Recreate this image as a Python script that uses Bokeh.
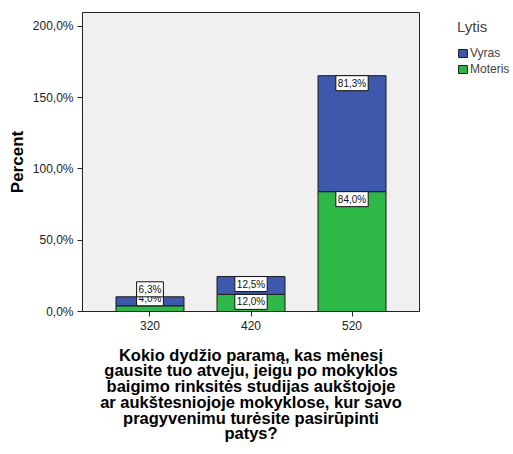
from bokeh.plotting import figure
from bokeh.models import (ColumnDataSource, FactorRange, Range1d, FixedTicker,
                          Legend, LegendItem)
from bokeh.core.properties import value
from bokeh.embed import file_html
from bokeh.resources import INLINE

# ---- data ----
categories = ["320", "420", "520"]
moteris = [4.0, 12.0, 84.0]
vyras = [6.3, 12.5, 81.3]
y_ticks = [0, 50, 100, 150, 200]
y_tick_labels = ["0,0%", "50,0%", "100,0%", "150,0%", "200,0%"]
series_names = ["Vyras", "Moteris"]
x_title = ("Kokio dydžio paramą, kas mėnesį\n"
           "gausite tuo atveju, jeigu po mokyklos\n"
           "baigimo rinksitės studijas aukštojoje\n"
           "ar aukštesniojoje mokyklose, kur savo\n"
           "pragyvenimu turėsite pasirūpinti\n"
           "patys?")
y_title = "Percent"
legend_title = "Lytis"

BLUE = "#3E58AC"
GREEN = "#2EB848"
FONT = "Liberation Sans"

def fmt(v):
    return f"{v:.1f}%".replace(".", ",")

src = ColumnDataSource(dict(cat=categories, moteris=moteris, vyras=vyras))

p = figure(frame_width=337, frame_height=299, output_backend="svg",
           toolbar_location=None,
           x_range=FactorRange(factors=categories, range_padding=0.112),
           y_range=Range1d(0, 209.6),
           min_border_left=82, min_border_top=12, min_border_right=94,
           min_border_bottom=143)

p.background_fill_color = "#F0F0F0"
p.border_fill_color = "white"
p.outline_line_color = "#222222"
p.outline_line_width = 1
p.xgrid.visible = False
p.ygrid.visible = False

rs = p.vbar_stack(["moteris", "vyras"], x="cat", width=0.673, source=src,
                  fill_color=[GREEN, BLUE], line_color="#1a1a1a", line_width=1)

# bar value labels
def label_rows(vals, base):
    tops = [b + v for b, v in zip(base, vals)]
    below = dict(x=[], y=[], t=[])
    above = dict(x=[], y=[], t=[])
    for c, v, top in zip(categories, vals, tops):
        d = below if v >= 11.5 else above
        d["x"].append(c); d["y"].append(top); d["t"].append(fmt(v))
    return below, above

base0 = [0.0] * len(categories)
g_below, g_above = label_rows(moteris, base0)
b_below, b_above = label_rows(vyras, moteris)

for d, baseline in [(g_below, "top"), (g_above, "bottom"),
                    (b_below, "top"), (b_above, "bottom")]:
    if not d["x"]:
        continue
    p.text(x="x", y="y", text="t", source=ColumnDataSource(d),
           text_font=value(FONT), text_font_size="10px", text_color="#111111",
           text_align="center", text_baseline=baseline,
           background_fill_color="white", border_line_color="#111111",
           padding=2)

# axes
p.yaxis.ticker = FixedTicker(ticks=y_ticks)
p.yaxis.major_label_overrides = {t: l for t, l in zip(y_ticks, y_tick_labels)}
for ax in (p.xaxis[0], p.yaxis[0]):
    ax.axis_line_color = "#222222"
    ax.major_tick_line_color = "#222222"
    ax.major_tick_in = 0
    ax.major_tick_out = 5
    ax.minor_tick_line_color = None
    ax.major_label_text_font = FONT
    ax.major_label_text_font_size = "12px"
    ax.major_label_text_color = "#222222"
    ax.axis_label_text_font = FONT
    ax.axis_label_text_font_style = "bold"
    ax.axis_label_text_color = "black"
    ax.axis_label_text_font_size = "17px"

p.yaxis.axis_label = y_title
p.yaxis.major_label_standoff = 4
p.yaxis.axis_label_standoff = 3
p.xaxis.axis_label = x_title
p.xaxis.axis_label_text_font_size = "16.5px"
p.xaxis.axis_label_text_line_height = 0.875
p.xaxis.major_label_standoff = 4
p.xaxis.axis_label_standoff = 13
p.xaxis.group_text_font_size = "0px"

legend = Legend(items=[LegendItem(label=series_names[0], renderers=[rs[1]]),
                       LegendItem(label=series_names[1], renderers=[rs[0]])],
                location=(38, 235), title=legend_title,
                title_text_font=FONT, title_text_font_size="15px",
                title_text_font_style="normal", title_standoff=11,
                label_text_font=FONT, label_text_font_size="12px",
                glyph_width=11, glyph_height=10, label_height=13,
                label_standoff=2, spacing=2, margin=0, padding=0,
                border_line_color=None, background_fill_alpha=0)
p.add_layout(legend, "right")

open("out.html", "w").write(file_html(p, INLINE))
